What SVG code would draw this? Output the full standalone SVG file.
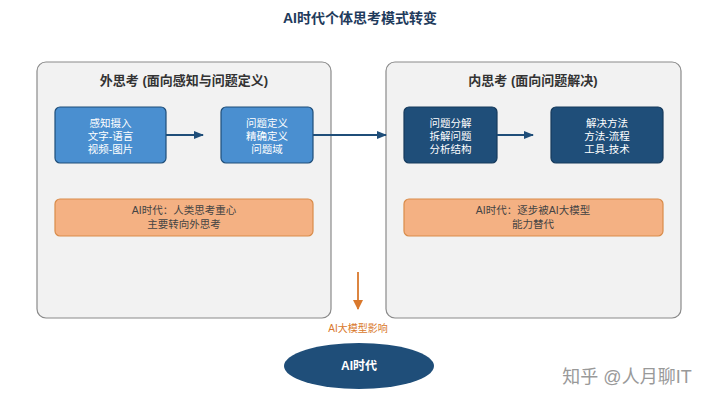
<svg xmlns="http://www.w3.org/2000/svg" width="720" height="406" viewBox="0 0 720 406">
<style>
text{font-family:"Liberation Sans","Noto Sans CJK SC",sans-serif;text-anchor:middle}
.panel{fill:#f2f2f2;stroke:#8a8a8a;stroke-width:1.2}
.ph{font-size:13px;font-weight:bold;fill:#333}
.lb{fill:#4a8fd0;stroke:#1f4e79;stroke-width:1.2}
.db{fill:#1f4e79;stroke:#163a5c;stroke-width:1.2}
.nt{font-size:10.5px;fill:#fff}
.ob{fill:#f4b183;stroke:#d98c4a;stroke-width:1.2}
.ot{font-size:10.5px;fill:#444}
.c{stroke:#1f4e79;stroke-width:1.8;fill:none}
</style>
<defs>
<marker id="ah" markerWidth="10" markerHeight="8" refX="9" refY="4" orient="auto" markerUnits="userSpaceOnUse"><path d="M0,0L10,4L0,8Z" fill="#1f4e79"/></marker>
<marker id="ao" markerWidth="10" markerHeight="12" refX="9" refY="5" orient="auto" markerUnits="userSpaceOnUse"><path d="M0,0L10,5L0,10Z" fill="#d9782c"/></marker>
</defs>
<rect width="720" height="406" fill="#fff"/>
<text x="360" y="23" font-size="14" font-weight="bold" fill="#1f3b5c">AI时代个体思考模式转变</text>
<g id="outer-panel"><rect class="panel" x="37" y="62" width="294" height="256" rx="9"/><text class="ph" x="184" y="85">外思考 (面向感知与问题定义)</text></g>
<g id="inner-panel"><rect class="panel" x="386" y="62" width="295" height="256" rx="9"/><text class="ph" x="533" y="85">内思考 (面向问题解决)</text></g>
<g id="perception"><rect class="lb" x="55" y="107" width="111" height="56" rx="5"/><text class="nt" x="110.5" y="127">感知摄入</text><text class="nt" x="110.5" y="140">文字-语言</text><text class="nt" x="110.5" y="153">视频-图片</text></g>
<g id="definition"><rect class="lb" x="221" y="107" width="92" height="56" rx="5"/><text class="nt" x="267" y="127">问题定义</text><text class="nt" x="267" y="140">精确定义</text><text class="nt" x="267" y="153">问题域</text></g>
<g id="decomposition"><rect class="db" x="404" y="107" width="93" height="56" rx="5"/><text class="nt" x="450.5" y="127">问题分解</text><text class="nt" x="450.5" y="140">拆解问题</text><text class="nt" x="450.5" y="153">分析结构</text></g>
<g id="solution"><rect class="db" x="551" y="107" width="112" height="56" rx="5"/><text class="nt" x="607" y="127">解决方法</text><text class="nt" x="607" y="140">方法-流程</text><text class="nt" x="607" y="153">工具-技术</text></g>
<g id="outer-note"><rect class="ob" x="55" y="199" width="258" height="37" rx="5"/><text class="ot" x="184" y="214">AI时代：人类思考重心</text><text class="ot" x="184" y="228">主要转向外思考</text></g>
<g id="inner-note"><rect class="ob" x="404" y="199" width="259" height="37" rx="5"/><text class="ot" x="533" y="214">AI时代：逐步被AI大模型</text><text class="ot" x="533" y="228">能力替代</text></g>
<g id="ai-era"><ellipse cx="359" cy="366" rx="75" ry="23" fill="#1f4e79"/><text x="359" y="370" font-size="12" font-weight="bold" fill="#fff">AI时代</text></g>
<g id="connectors">
<line class="c" x1="166" y1="135" x2="203" y2="135" marker-end="url(#ah)"/>
<line class="c" x1="313" y1="135" x2="386" y2="135" marker-end="url(#ah)"/>
<line class="c" x1="497" y1="135" x2="533" y2="135" marker-end="url(#ah)"/>
<line x1="358" y1="272" x2="358" y2="309" stroke="#d9782c" stroke-width="1.8" marker-end="url(#ao)"/>
<text x="358" y="332" font-size="10" fill="#d9782c">AI大模型影响</text>
</g>
<text x="627" y="383" font-size="18" fill="#999">知乎 @人月聊IT</text>
</svg>
